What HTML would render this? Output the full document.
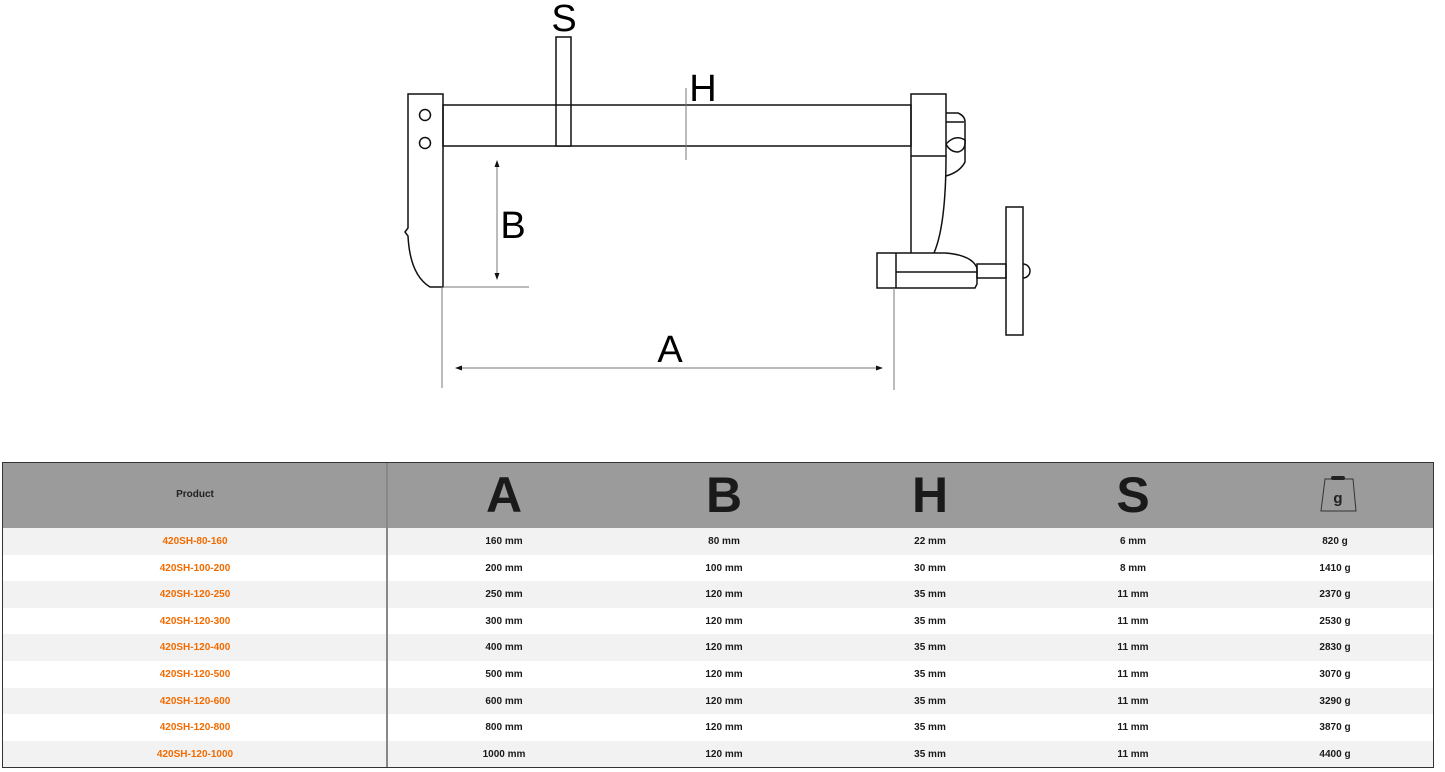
<!DOCTYPE html>
<html><head><meta charset="utf-8"><style>
body{margin:0;width:1445px;height:772px;background:#fff;position:relative;overflow:hidden;font-family:"Liberation Sans",sans-serif}
svg{position:absolute;left:0;top:0}
.t{position:absolute;left:2px;top:462px;width:1432px;height:306px;border:1px solid #333;box-sizing:border-box;}
.hd{position:absolute;left:0;top:0;width:100%;height:65px;background:#9b9b9b}
.row{position:absolute;left:0;width:100%;height:26.6px}
.c{position:absolute;transform:translateX(-50%);font-size:10px;font-weight:bold;color:#1a1a1a;line-height:26.6px;white-space:nowrap}
.p{color:#f26b00}
.L{position:absolute;top:0;transform:translateX(-50%);font-size:50px;font-weight:bold;color:#1a1a1a;line-height:65px}
.sep{position:absolute;left:383px;top:0;width:2px;height:100%;background:#888}
</style></head><body>
<svg width="1445" height="460" viewBox="0 0 1445 460">
<g fill="none" stroke="#111" stroke-width="1.5">
<path d="M443,94 L408,94 L408,228 L405,232 L408,236 Q410,275 430,287 L443,287 Z"/>
<circle cx="425" cy="115" r="5.5"/><circle cx="425" cy="143" r="5.5"/>
<rect x="443" y="105" width="468" height="41"/>
<rect x="556" y="37" width="15" height="109" fill="#fff"/>
<line x1="556" y1="105" x2="571" y2="105"/>
<rect x="911" y="94" width="35" height="62"/>
<path d="M946,113 L958,113 Q965,116 965,122 L965,162 Q960,172 946,176"/>
<line x1="946" y1="122" x2="964" y2="122"/>
<path d="M946,144 Q955,134 965,140 Q966,150 958,152 Q950,152 946,144"/>
<path d="M911,156 L911,253 M946,156 Q946,225 934,253"/>
<path d="M877,253 L945,253 Q972,255 977,268 L977,284 L975,288 L877,288 Z"/>
<line x1="896" y1="253" x2="896" y2="288"/>
<line x1="896" y1="272" x2="977" y2="272"/>
<rect x="977" y="264" width="29" height="14"/>
<rect x="1006" y="207" width="17" height="128"/>
<path d="M1023,264 A7,7 0 0 1 1023,278"/>
</g>
<g stroke="#777" stroke-width="1" fill="none">
<line x1="686" y1="88" x2="686" y2="160"/>
<line x1="443" y1="287" x2="529" y2="287"/>
<line x1="442" y1="287" x2="442" y2="388"/>
<line x1="894" y1="288" x2="894" y2="390"/>
<line x1="497" y1="164" x2="497" y2="276"/>
<line x1="458" y1="368" x2="880" y2="368"/>
</g>
<g fill="#111">
<path d="M497,160 L494.5,167 L499.5,167Z M497,280 L494.5,273 L499.5,273Z"/>
<path d="M455,368 L462,365.5 L462,370.5Z M883,368 L876,365.5 L876,370.5Z"/>
</g>
<g font-family="Liberation Sans" font-size="38" fill="#000" text-anchor="middle">
<text x="564" y="31">S</text>
<text x="703" y="101">H</text>
<text x="513" y="238">B</text>
<text x="670" y="362">A</text>
</g>
</svg>
<div class="t">
<div class="hd"></div>
<div class="c" style="left:192px;top:19px;color:#222;font-size:10px">Product</div>
<div class="L" style="left:501px">A</div>
<div class="L" style="left:721px">B</div>
<div class="L" style="left:927px">H</div>
<div class="L" style="left:1130px">S</div>
<svg width="60" height="50" style="left:1300px;top:8px" viewBox="1298 470 60 50">
<path d="M1320,478 L1348,478 L1351,510 L1316,510 Z" fill="none" stroke="#333" stroke-width="1"/>
<rect x="1326" y="475" width="14" height="4" rx="2" fill="#222"/>
<text x="1333" y="502" font-family="Liberation Sans" font-weight="bold" font-size="15" text-anchor="middle" fill="#222">g</text>
</svg>
<div class="row" style="top:65px;background:#f2f2f2"></div>
<div class="row" style="top:118.2px;background:#f2f2f2"></div>
<div class="row" style="top:171.4px;background:#f2f2f2"></div>
<div class="row" style="top:224.6px;background:#f2f2f2"></div>
<div class="row" style="top:277.8px;background:#f2f2f2"></div>
<div class="sep"></div>
<div style="position:absolute;left:0;top:66px;width:100%">
<div style="position:relative;height:26.6px"><span class="c p" style="left:192px">420SH-80-160</span><span class="c" style="left:501px">160 mm</span><span class="c" style="left:721px">80 mm</span><span class="c" style="left:927px">22 mm</span><span class="c" style="left:1130px">6 mm</span><span class="c" style="left:1332px">820 g</span></div>
<div style="position:relative;height:26.6px"><span class="c p" style="left:192px">420SH-100-200</span><span class="c" style="left:501px">200 mm</span><span class="c" style="left:721px">100 mm</span><span class="c" style="left:927px">30 mm</span><span class="c" style="left:1130px">8 mm</span><span class="c" style="left:1332px">1410 g</span></div>
<div style="position:relative;height:26.6px"><span class="c p" style="left:192px">420SH-120-250</span><span class="c" style="left:501px">250 mm</span><span class="c" style="left:721px">120 mm</span><span class="c" style="left:927px">35 mm</span><span class="c" style="left:1130px">11 mm</span><span class="c" style="left:1332px">2370 g</span></div>
<div style="position:relative;height:26.6px"><span class="c p" style="left:192px">420SH-120-300</span><span class="c" style="left:501px">300 mm</span><span class="c" style="left:721px">120 mm</span><span class="c" style="left:927px">35 mm</span><span class="c" style="left:1130px">11 mm</span><span class="c" style="left:1332px">2530 g</span></div>
<div style="position:relative;height:26.6px"><span class="c p" style="left:192px">420SH-120-400</span><span class="c" style="left:501px">400 mm</span><span class="c" style="left:721px">120 mm</span><span class="c" style="left:927px">35 mm</span><span class="c" style="left:1130px">11 mm</span><span class="c" style="left:1332px">2830 g</span></div>
<div style="position:relative;height:26.6px"><span class="c p" style="left:192px">420SH-120-500</span><span class="c" style="left:501px">500 mm</span><span class="c" style="left:721px">120 mm</span><span class="c" style="left:927px">35 mm</span><span class="c" style="left:1130px">11 mm</span><span class="c" style="left:1332px">3070 g</span></div>
<div style="position:relative;height:26.6px"><span class="c p" style="left:192px">420SH-120-600</span><span class="c" style="left:501px">600 mm</span><span class="c" style="left:721px">120 mm</span><span class="c" style="left:927px">35 mm</span><span class="c" style="left:1130px">11 mm</span><span class="c" style="left:1332px">3290 g</span></div>
<div style="position:relative;height:26.6px"><span class="c p" style="left:192px">420SH-120-800</span><span class="c" style="left:501px">800 mm</span><span class="c" style="left:721px">120 mm</span><span class="c" style="left:927px">35 mm</span><span class="c" style="left:1130px">11 mm</span><span class="c" style="left:1332px">3870 g</span></div>
<div style="position:relative;height:26.6px"><span class="c p" style="left:192px">420SH-120-1000</span><span class="c" style="left:501px">1000 mm</span><span class="c" style="left:721px">120 mm</span><span class="c" style="left:927px">35 mm</span><span class="c" style="left:1130px">11 mm</span><span class="c" style="left:1332px">4400 g</span></div>
</div>
</div>
</body></html>
